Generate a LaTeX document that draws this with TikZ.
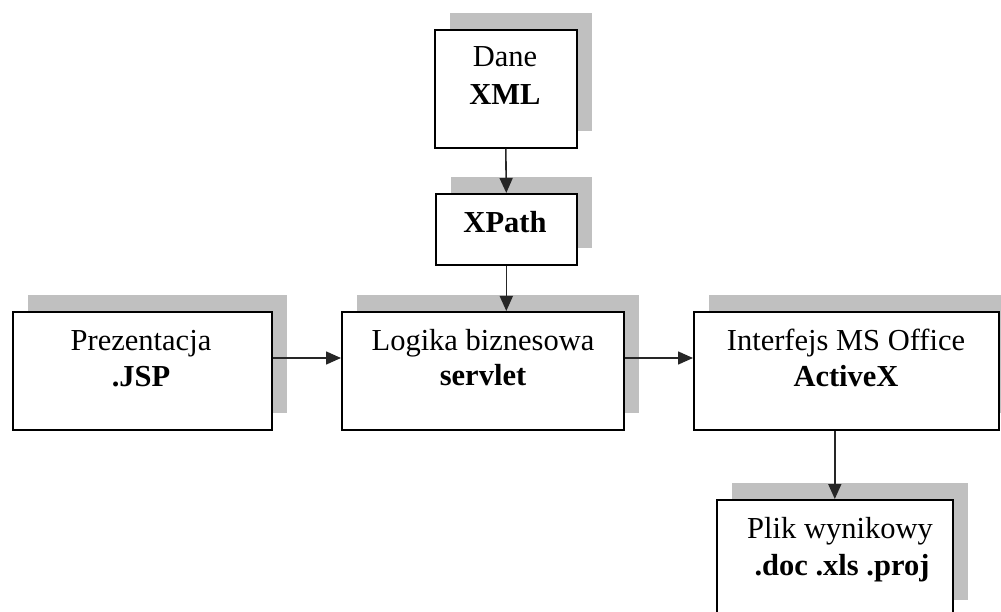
\documentclass[tikz,border=0pt]{standalone}
\usepackage{fontspec}
\setmainfont{Liberation Serif}
\usetikzlibrary{arrows.meta}
\definecolor{shadowgray}{RGB}{192,192,192}
\begin{document}
\begin{tikzpicture}[x=1pt,y=-1pt,
  boxnode/.style={draw=black,line width=1.6pt,fill=white,inner sep=0pt,anchor=north west},
  shadownode/.style={fill=shadowgray,inner sep=0pt,anchor=north west},
  lbl/.style={anchor=base,inner sep=0pt,font=\fontsize{30.5}{36}\selectfont},
  lblb/.style={lbl,font=\fontsize{30.5}{36}\selectfont\bfseries},
  arr/.style={line width=1.6pt,draw=black!85,-{Triangle[length=15pt,width=13pt]}}]
\useasboundingbox (0,0) rectangle (1001,612);
% shadows
\node[shadownode,minimum width=142pt,minimum height=118pt] (daneS) at (450,13) {};
\node[shadownode,minimum width=141pt,minimum height=71pt] (xpathS) at (451,177) {};
\node[shadownode,minimum width=259pt,minimum height=118pt] (prezS) at (28,295) {};
\node[shadownode,minimum width=282pt,minimum height=118pt] (logikaS) at (357,295) {};
\node[shadownode,minimum width=305pt,minimum height=118pt] (interS) at (709,295) {};
\node[shadownode,minimum width=236pt,minimum height=117pt] (plikS) at (732,483) {};
% boxes
\node[boxnode,minimum width=142pt,minimum height=118pt] (dane) at (434,29) {};
\node[boxnode,minimum width=141pt,minimum height=71pt] (xpath) at (435,193) {};
\node[boxnode,minimum width=259pt,minimum height=118pt] (prez) at (12,311) {};
\node[boxnode,minimum width=282pt,minimum height=118pt] (logika) at (341,311) {};
\node[boxnode,minimum width=305pt,minimum height=118pt] (inter) at (693,311) {};
\node[boxnode,minimum width=236pt,minimum height=140pt] (plik) at (716,499) {};
% texts
\node[lbl] (daneT1) at (505,67) {Dane};
\node[lblb] (daneT2) at (505,105) {XML};
\node[lblb] (xpathT) at (505,233) {XPath};
\node[lbl] (prezT1) at (141,350) {Prezentacja};
\node[lblb] (prezT2) at (141,386) {.JSP};
\node[lbl] (logikaT1) at (483,350) {Logika biznesowa};
\node[lblb] (logikaT2) at (483,385) {servlet};
\node[lbl] (interT1) at (846,350) {Interfejs MS Office};
\node[lblb] (interT2) at (846,386) {ActiveX};
\node[lbl] (plikT1) at (840,538) {Plik wynikowy};
\node[lblb] (plikT2) at (842,575) {.doc .xls .proj};
% connectors
\draw[arr] (dane.south) -- (xpath.north);
\draw[arr] (xpath.south) -- (xpath.south |- logika.north);
\draw[arr] (prez.east |- 0,358) -- (logika.west |- 0,358);
\draw[arr] (logika.east |- 0,358) -- (inter.west |- 0,358);
\draw[arr] (plik.north |- inter.south) -- (plik.north);
\end{tikzpicture}
\end{document}
